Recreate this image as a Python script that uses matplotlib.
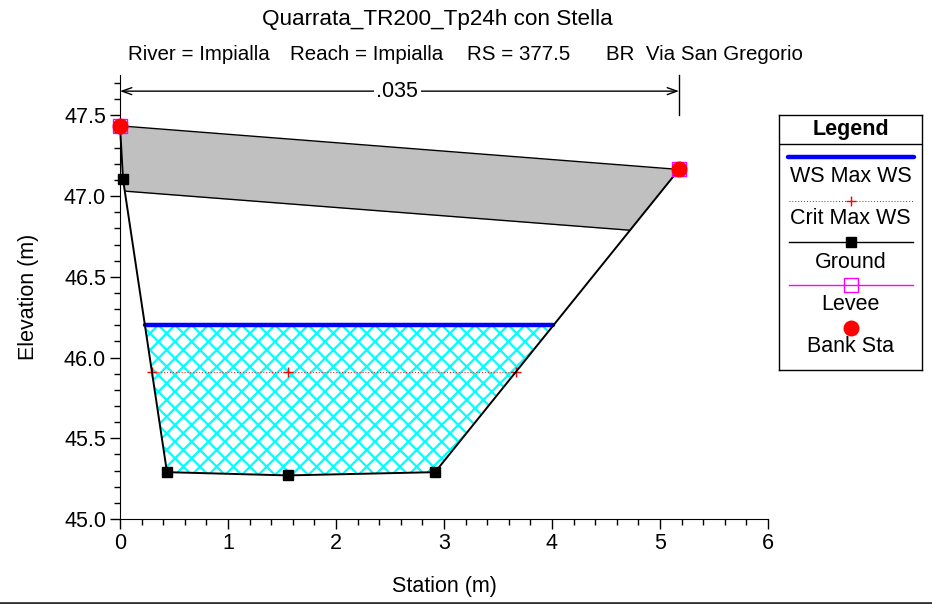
import numpy as np
import matplotlib
matplotlib.use('Agg')
import matplotlib.pyplot as plt
from matplotlib.lines import Line2D

plt.rcParams['font.family'] = ['Liberation Sans', 'DejaVu Sans']
plt.rcParams['hatch.linewidth'] = 1.6

# sezione: stazione (m) / quota (m)
ground_sta = [0.0, 0.028, 0.435, 1.556, 2.917, 5.176]
ground_elev = [47.435, 47.103, 45.29, 45.27, 45.29, 47.165]

# impalcato del ponte
deck_sta = [0.0, 5.176]
deck_high = [47.435, 47.165]
deck_low = [47.033, 46.765]

# argini e sponde
levee_sta = [0.0, 5.176]
levee_elev = [47.435, 47.165]
bank_sta = [0.0, 5.176]
bank_elev = [47.435, 47.165]

# livelli
ws_elev = 46.20
crit_elev = 45.912
crit_sta = [0.296, 1.556, 3.664]

n_value = '.035'

FS = 15.5

fig = plt.figure(figsize=(9.32, 6.04), dpi=100)
ax = fig.add_axes([120/932, 1-519/604, 648/932, 444/604])

gx = np.array(ground_sta)
gy = np.array(ground_elev)

# impalcato (grigio)
xs = np.linspace(deck_sta[0], deck_sta[-1], 800)
g_i = np.interp(xs, gx, gy)
hi_i = np.interp(xs, deck_sta, deck_high)
lo_i = np.interp(xs, deck_sta, deck_low)
ax.fill_between(xs, np.maximum(lo_i, g_i), hi_i, where=hi_i >= g_i,
                color='#c0c0c0', lw=0, zorder=1)
ax.plot(deck_sta, deck_high, color='black', lw=1.0, zorder=2)
ax.plot(xs, np.where(lo_i > g_i, lo_i, np.nan), color='black', lw=1.0, zorder=2)

# acqua
ws = np.full(len(gx), ws_elev)
ax.fill_between(gx, gy, ws, where=gy < ws, interpolate=True,
                facecolor='white', edgecolor='cyan', hatch='xx', lw=0, zorder=1)
ws_l = np.interp(ws_elev, gy[:3][::-1], gx[:3][::-1])
ws_r = np.interp(ws_elev, gy[4:], gx[4:])
ax.plot([ws_l, ws_r], [ws_elev, ws_elev], color='blue', lw=3.2,
        solid_capstyle='round', zorder=4)

# critica
ax.plot(crit_sta, [crit_elev]*len(crit_sta), color='red', lw=0.7, ls=(0, (1, 2)),
        marker='+', ms=7, mew=1.0, zorder=4)

# terreno
ax.plot(gx, gy, color='black', lw=1.4, marker='s', ms=6.5, zorder=5, clip_on=False)
ax.plot(levee_sta, levee_elev, ls='none', marker='s', ms=10.5, mfc='none',
        mec='magenta', mew=1.0, zorder=6, clip_on=False)
ax.plot(bank_sta, bank_elev, ls='none', marker='o', ms=10.5, color='red',
        zorder=7, clip_on=False)

# coefficiente di manning
ax.plot([bank_sta[1], bank_sta[1]], [47.5, 47.75], color='black', lw=1.0,
        clip_on=False)
ax.annotate('', xy=(0, 47.65), xytext=(bank_sta[1], 47.65),
            arrowprops=dict(arrowstyle='<->,head_length=0.7,head_width=0.25',
                            color='black', lw=1.0, shrinkA=0, shrinkB=0))
ax.text(sum(bank_sta)/2 - 0.02, 47.65, n_value, ha='center', va='center', fontsize=FS,
        bbox=dict(facecolor='white', edgecolor='none', pad=2))

ax.set_xlim(0, 6)
ax.set_ylim(45.0, 47.75)
ax.set_xticks(np.arange(0, 7, 1))
ax.set_xticks(np.arange(0, 6.01, 0.2), minor=True)
ax.set_yticks([45.0, 45.5, 46.0, 46.5, 47.0, 47.5])
ax.set_yticklabels(['45.0', '45.5', '46.0', '46.5', '47.0', '47.5'])
ax.set_yticks(np.arange(45.0, 47.75, 0.1), minor=True)
ax.tick_params(which='major', length=7, width=1, labelsize=FS, pad=3)
ax.tick_params(which='minor', length=4, width=1)
ax.spines['top'].set_visible(False)
ax.spines['right'].set_visible(False)
ax.set_xlabel('Station (m)', fontsize=FS, labelpad=16)
ax.set_ylabel('Elevation (m)', fontsize=FS, labelpad=18)

# titoli
fig.text(437/932, 1-20/604, 'Quarrata_TR200_Tp24h con Stella', ha='center',
         va='center', fontsize=16.2)
sub_y = 1-55/604
fig.text(128/932, sub_y, 'River = Impialla', ha='left', va='center', fontsize=14.8)
fig.text(290/932, sub_y, 'Reach = Impialla', ha='left', va='center', fontsize=14.8)
fig.text(467/932, sub_y, 'RS = 377.5', ha='left', va='center', fontsize=14.8)
fig.text(606/932, sub_y, 'BR  Via San Gregorio', ha='left', va='center', fontsize=14.8)

# legenda
lg = fig.add_axes([779/932, 1-370/604, 143/932, 255/604])
lg.set_xlim(0, 143)
lg.set_ylim(255, 0)
lg.set_xticks([])
lg.set_yticks([])
for s in lg.spines.values():
    s.set_linewidth(1.0)
lg.text(71.5, 14, 'Legend', ha='center', va='center', fontsize=FS, fontweight='bold')
lg.plot([0, 143], [29, 29], color='black', lw=1.0)
lg.plot([9, 135], [42, 42], color='blue', lw=3.2, solid_capstyle='round')
lg.text(71.5, 61, 'WS Max WS', ha='center', va='center', fontsize=FS)
lg.plot([10, 134], [86, 86], color='red', lw=0.7, ls=(0, (1, 2)))
lg.plot([72], [86], color='red', marker='+', ms=7, mew=1.0)
lg.text(71.5, 103, 'Crit Max WS', ha='center', va='center', fontsize=FS)
lg.plot([10, 134], [127, 127], color='black', lw=1.0)
lg.plot([72], [127], color='black', marker='s', ms=6.5)
lg.text(71.5, 147, 'Ground', ha='center', va='center', fontsize=FS)
lg.plot([10, 134], [170, 170], color='magenta', lw=1.0)
lg.plot([72], [170], marker='s', ms=10.5, mfc='none', mec='magenta', mew=1.0)
lg.text(71.5, 189, 'Levee', ha='center', va='center', fontsize=FS)
lg.plot([72], [213], marker='o', ms=10.5, color='red')
lg.text(71.5, 231, 'Bank Sta', ha='center', va='center', fontsize=FS)

# bordo inferiore
fig.add_artist(Line2D([0, 1], [1/604, 1/604], color='#333333', lw=2))

fig.savefig('out.png', dpi=100)
